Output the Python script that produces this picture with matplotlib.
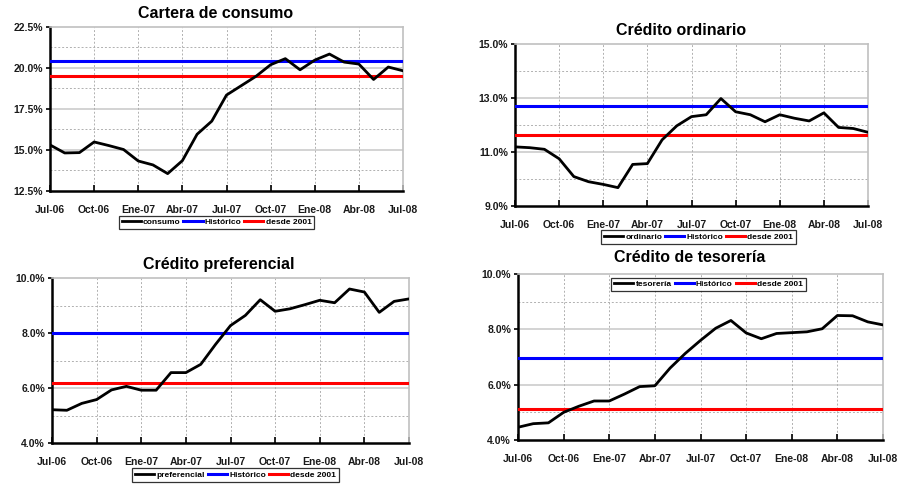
import matplotlib
matplotlib.use("Agg")
import matplotlib.pyplot as plt
from matplotlib.ticker import FixedLocator, FuncFormatter

plt.rcParams['font.family'] = ['Liberation Sans', 'DejaVu Sans']

months = ["Jul-06", "Ago-06", "Sep-06", "Oct-06", "Nov-06", "Dic-06", "Ene-07", "Feb-07", "Mar-07",
          "Abr-07", "May-07", "Jun-07", "Jul-07", "Ago-07", "Sep-07", "Oct-07", "Nov-07", "Dic-07",
          "Ene-08", "Feb-08", "Mar-08", "Abr-08", "May-08", "Jun-08", "Jul-08"]
tick_labels = ["Jul-06", "Oct-06", "Ene-07", "Abr-07", "Jul-07", "Oct-07", "Ene-08", "Abr-08", "Jul-08"]

consumo = [15.31, 14.82, 14.84, 15.49, 15.27, 15.03, 14.33, 14.09, 13.56, 14.35, 15.96, 16.76, 18.35,
           18.92, 19.49, 20.20, 20.57, 19.89, 20.48, 20.85, 20.36, 20.24, 19.30, 20.06, 19.83]
consumo_hist = 20.42
consumo_2001 = 19.53

ordinario = [11.19, 11.16, 11.10, 10.75, 10.09, 9.90, 9.80, 9.68, 10.54, 10.57, 11.45, 11.97, 12.31,
             12.38, 12.98, 12.49, 12.38, 12.12, 12.38, 12.25, 12.15, 12.45, 11.91, 11.87, 11.73]
ordinario_hist = 12.71
ordinario_2001 = 11.62

preferencial = [5.21, 5.19, 5.44, 5.58, 5.93, 6.06, 5.92, 5.92, 6.56, 6.56, 6.86, 7.59, 8.27,
                8.64, 9.21, 8.79, 8.88, 9.03, 9.19, 9.10, 9.60, 9.49, 8.75, 9.15, 9.24]
preferencial_hist = 8.0
preferencial_2001 = 6.18

tesoreria = [4.46, 4.59, 4.62, 5.00, 5.22, 5.41, 5.41, 5.66, 5.93, 5.96, 6.60, 7.13, 7.60,
             8.04, 8.32, 7.87, 7.66, 7.85, 7.88, 7.91, 8.02, 8.50, 8.49, 8.27, 8.16]
tesoreria_hist = 6.98
tesoreria_2001 = 5.11

W, H = 901, 486
fig = plt.figure(figsize=(W / 100, H / 100), dpi=100)


def px_axes(left, right, top, bottom):
    return fig.add_axes([left / W, 1 - bottom / H, (right - left) / W, (bottom - top) / H])


def panel(box, title, title_xy, name, series, hist, d2001, ymin, ymax, ystep, legend_center):
    ax = px_axes(*box)
    x = list(range(len(months)))
    majors = []
    v = ymin
    while v <= ymax + 1e-9:
        majors.append(round(v, 3))
        v += ystep
    minors = [round(m + ystep / 2, 3) for m in majors[:-1]]
    for m in majors[1:-1]:
        ax.axhline(m, color="#cccccc", lw=1.2, zorder=1)
    for m in minors:
        ax.axhline(m, color="#b0b0b0", lw=0.7, ls=(0, (2, 2)), zorder=1)
    tick_pos = list(range(0, len(months), 3))
    for t in tick_pos[1:-1]:
        ax.axvline(t, color="#b0b0b0", lw=0.7, ls=(0, (2, 2)), zorder=1)
    l1, = ax.plot(x, series, color="black", lw=2.0, zorder=4, label=name)
    l2, = ax.plot([x[0], x[-1]], [hist, hist], color="#0000ff", lw=2.2, zorder=3, label="Histórico")
    l3, = ax.plot([x[0], x[-1]], [d2001, d2001], color="#ff0000", lw=2.2, zorder=3, label="desde 2001")
    ax.set_xlim(0, len(months) - 1)
    ax.set_ylim(ymin, ymax)
    ax.yaxis.set_major_locator(FixedLocator(majors))
    ax.yaxis.set_major_formatter(FuncFormatter(lambda v, p: f"{v:.1f}%"))
    ax.xaxis.set_major_locator(FixedLocator(tick_pos))
    ax.set_xticklabels(tick_labels)
    for lab in ax.get_xticklabels() + ax.get_yticklabels():
        lab.set_fontweight("bold")
        lab.set_fontsize(7.5)
        lab.set_color("#1a1a1a")
    ax.tick_params(axis="x", direction="in", length=4, width=1.2, pad=10)
    ax.tick_params(axis="y", direction="out", length=3, width=1.2, pad=2)
    for s in ("left", "bottom"):
        ax.spines[s].set_color("black")
        ax.spines[s].set_linewidth(1.8)
    for s in ("top", "right"):
        ax.spines[s].set_color("#c0c0c0")
        ax.spines[s].set_linewidth(1.2)
    fig.text(title_xy[0] / W, 1 - title_xy[1] / H, title, ha="center", va="center",
             fontsize=11.5, fontweight="bold")
    leg = fig.legend(handles=[l1, l2, l3], loc="center",
                     bbox_to_anchor=(legend_center[0] / W, 1 - legend_center[1] / H),
                     ncol=3, fontsize=6, frameon=True, fancybox=False, handlelength=2.3,
                     handletextpad=0.25, columnspacing=0.35, borderpad=0.35, borderaxespad=0)
    leg.get_frame().set_edgecolor("black")
    leg.get_frame().set_linewidth(0.9)
    for t in leg.get_texts():
        t.set_fontweight("bold")
    return ax


panel((50, 403, 27, 191), "Cartera de consumo", (216, 14), "consumo", consumo, consumo_hist, consumo_2001,
      12.5, 22.5, 2.5, (216.5, 222.5))
panel((515, 868, 44, 206), "Crédito ordinario", (681, 30), "ordinario", ordinario, ordinario_hist,
      ordinario_2001, 9.0, 15.0, 2.0, (698.5, 237))
panel((52, 409, 278, 443), "Crédito preferencial", (219, 265), "preferencial", preferencial,
      preferencial_hist, preferencial_2001, 4.0, 10.0, 2.0, (235.5, 475))
panel((518, 883, 274, 440), "Crédito de tesorería", (690, 257), "tesorería", tesoreria, tesoreria_hist,
      tesoreria_2001, 4.0, 10.0, 2.0, (708.5, 284.5))

fig.savefig("out.png", dpi=100)
